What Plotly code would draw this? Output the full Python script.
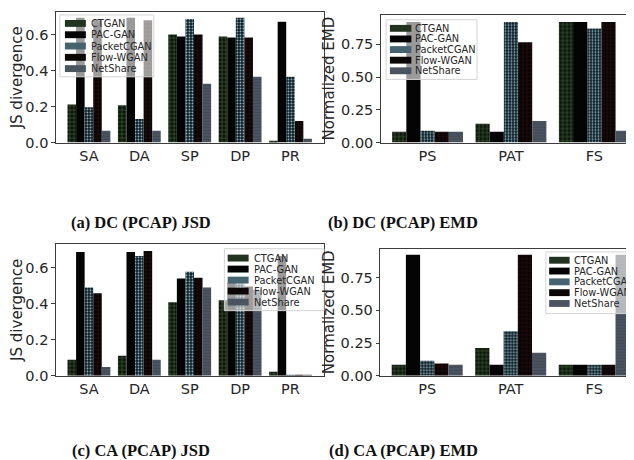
import plotly.graph_objects as go

# ---------------- data ----------------
series = ["CTGAN", "PAC-GAN", "PacketCGAN", "Flow-WGAN", "NetShare"]
jsd_fields = ["SA", "DA", "SP", "DP", "PR"]
emd_fields = ["PS", "PAT", "FS"]

# (a) DC (PCAP) JSD
dc_jsd_ctgan = [0.213, 0.208, 0.602, 0.591, 0.011]
dc_jsd_pacgan = [0.695, 0.695, 0.591, 0.585, 0.673]
dc_jsd_packetcgan = [0.197, 0.131, 0.689, 0.695, 0.367]
dc_jsd_flowwgan = [0.682, 0.682, 0.602, 0.585, 0.120]
dc_jsd_netshare = [0.066, 0.066, 0.328, 0.367, 0.022]

# (b) DC (PCAP) EMD
dc_emd_ctgan = [0.083, 0.143, 0.920]
dc_emd_pacgan = [0.920, 0.083, 0.920]
dc_emd_packetcgan = [0.090, 0.920, 0.870]
dc_emd_flowwgan = [0.083, 0.765, 0.920]
dc_emd_netshare = [0.083, 0.165, 0.090]

# (c) CA (PCAP) JSD
ca_jsd_ctgan = [0.089, 0.111, 0.409, 0.420, 0.022]
ca_jsd_pacgan = [0.687, 0.687, 0.540, 0.515, 0.665]
ca_jsd_packetcgan = [0.491, 0.665, 0.578, 0.512, 0.002]
ca_jsd_flowwgan = [0.458, 0.693, 0.545, 0.496, 0.005]
ca_jsd_netshare = [0.049, 0.089, 0.491, 0.478, 0.005]

# (d) CA (PCAP) EMD
ca_emd_ctgan = [0.085, 0.213, 0.085]
ca_emd_pacgan = [0.925, 0.085, 0.085]
ca_emd_packetcgan = [0.115, 0.340, 0.085]
ca_emd_flowwgan = [0.093, 0.925, 0.085]
ca_emd_netshare = [0.085, 0.175, 0.925]

captions = ["(a) DC (PCAP) JSD", "(b) DC (PCAP) EMD",
            "(c) CA (PCAP) JSD", "(d) CA (PCAP) EMD"]

# ---------------- styles ----------------
W, H = 634, 460


def px(x):
    return x / W


def py(y):
    return 1 - y / H


styles = {
    "CTGAN": dict(color="#0b130b", pattern=dict(shape="+", fgcolor="#3f6236", fgopacity=1,
                                               fillmode="overlay", size=4, solidity=0.3),
                  swatch="#22341f"),
    "PAC-GAN": dict(color="#040404", pattern=None, swatch="#040404"),
    "PacketCGAN": dict(color="#0c1a20", pattern=dict(shape=".", fgcolor="#93bccc", fgopacity=1,
                                                    fillmode="overlay", size=3, solidity=0.3),
                       swatch="#456470"),
    "Flow-WGAN": dict(color="#060404", pattern=dict(shape="+", fgcolor="#2e0e0e", fgopacity=1,
                                                   fillmode="overlay", size=4, solidity=0.3),
                      swatch="#0c0606"),
    "NetShare": dict(color="#4a5561", pattern=dict(shape="-", fgcolor="#3e4852", fgopacity=1,
                                                  fillmode="overlay", size=3, solidity=0.3),
                     swatch="#4a5561"),
}

panels = [
    (jsd_fields, [dc_jsd_ctgan, dc_jsd_pacgan, dc_jsd_packetcgan, dc_jsd_flowwgan, dc_jsd_netshare], "x", "y"),
    (emd_fields, [dc_emd_ctgan, dc_emd_pacgan, dc_emd_packetcgan, dc_emd_flowwgan, dc_emd_netshare], "x2", "y2"),
    (jsd_fields, [ca_jsd_ctgan, ca_jsd_pacgan, ca_jsd_packetcgan, ca_jsd_flowwgan, ca_jsd_netshare], "x3", "y3"),
    (emd_fields, [ca_emd_ctgan, ca_emd_pacgan, ca_emd_packetcgan, ca_emd_flowwgan, ca_emd_netshare], "x4", "y4"),
]

fig = go.Figure()
for fields, vals, xa, ya in panels:
    for name, v in zip(series, vals):
        st = styles[name]
        marker = dict(color=st["color"], line=dict(width=0))
        if st["pattern"] is not None:
            marker["pattern"] = st["pattern"]
        fig.add_trace(go.Bar(x=fields, y=v, name=name, marker=marker,
                             xaxis=xa, yaxis=ya, showlegend=False,
                             offsetgroup=name))

tickfont = dict(family="DejaVu Sans", size=14.5, color="#262626")
axis_common = dict(showline=True, mirror=True, linecolor="#3c3c3c", linewidth=1.3,
                   showgrid=False, zeroline=False, tickfont=tickfont)
x_common = dict(axis_common, ticks="", type="category")
y_common = dict(axis_common, ticks="outside", ticklen=3.5, tickcolor="#3c3c3c",
                tickwidth=1, title_font=dict(family="DejaVu Sans", size=15, color="#262626"),
                title_standoff=2)

fig.update_layout(
    width=W, height=H,
    margin=dict(l=0, r=0, t=0, b=0),
    paper_bgcolor="white", plot_bgcolor="white",
    barmode="group", bargap=0.15, bargroupgap=0,
    font=dict(family="DejaVu Sans", color="#262626"),
    xaxis=dict(x_common, domain=[px(48), px(316)], range=[-0.655, 4.655], anchor="y"),
    yaxis=dict(y_common, domain=[py(137), py(4)], range=[0, 0.728], dtick=0.2,
               tickformat=".1f", title_text="JS divergence", anchor="x"),
    xaxis2=dict(x_common, domain=[px(373.5), 1], range=[-0.56, 2.56], anchor="y2"),
    yaxis2=dict(y_common, domain=[py(137), py(6.7)], range=[0, 0.977], dtick=0.25,
                tickformat=".2f", title_text="Normalized EMD", anchor="x2"),
    xaxis3=dict(x_common, domain=[px(48), px(316)], range=[-0.655, 4.655], anchor="y3"),
    yaxis3=dict(y_common, domain=[py(374.3), py(240)], range=[0, 0.733], dtick=0.2,
                tickformat=".1f", title_text="JS divergence", anchor="x3"),
    xaxis4=dict(x_common, domain=[px(373), 1], range=[-0.56, 2.56], anchor="y4"),
    yaxis4=dict(y_common, domain=[py(374.3), py(245)], range=[0, 0.97], dtick=0.25,
                tickformat=".2f", title_text="Normalized EMD", anchor="x4"),
)

# ---------------- legends (drawn as guides) ----------------
legend_specs = [
    # box x0, y0, x1, y1, swatch x0, swatch x1, text x, first row y, row step
    (52, 7, 146, 70, 57, 78, 82, 15.7, 11.5),
    (378.7, 12, 469.7, 72.7, 382.5, 404, 406.5, 20.7, 10.8),
    (216.7, 245, 316.5, 308, 220, 241, 245.5, 254.5, 11.2),
    (538.7, 248.3, 633.5, 311, 542, 562.5, 565.5, 256.7, 11.0),
]
shapes = []
annotations = []
for bx0, by0, bx1, by1, sx0, sx1, tx, ry0, step in legend_specs:
    shapes.append(dict(type="rect", xref="paper", yref="paper", layer="above",
                       x0=px(bx0), x1=px(bx1), y0=py(by1), y1=py(by0),
                       fillcolor="rgba(255,255,255,0.6)",
                       line=dict(color="#d4d4d4", width=1)))
    for i, name in enumerate(series):
        yc = ry0 + i * step
        shapes.append(dict(type="rect", xref="paper", yref="paper", layer="above",
                           x0=px(sx0), x1=px(sx1), y0=py(yc + 3.5), y1=py(yc - 3.5),
                           fillcolor=styles[name]["swatch"], line=dict(width=0)))
        annotations.append(dict(xref="paper", yref="paper", x=px(tx), y=py(yc),
                                xanchor="left", yanchor="middle", showarrow=False,
                                borderpad=0,
                                text=name, font=dict(family="DejaVu Sans", size=9.8,
                                                     color="#262626")))

cap_pos = [(133, 218), (396, 218), (133, 450), (396, 450)]
for text, (cx, cy) in zip(captions, cap_pos):
    annotations.append(dict(xref="paper", yref="paper", x=px(cx), y=py(cy),
                            xanchor="center", yanchor="middle", showarrow=False,
                            text="<b>" + text + "</b>",
                            font=dict(family="Liberation Serif", size=16.5, color="#111111")))

fig.update_layout(shapes=shapes, annotations=annotations)

fig.write_html("out.html")
